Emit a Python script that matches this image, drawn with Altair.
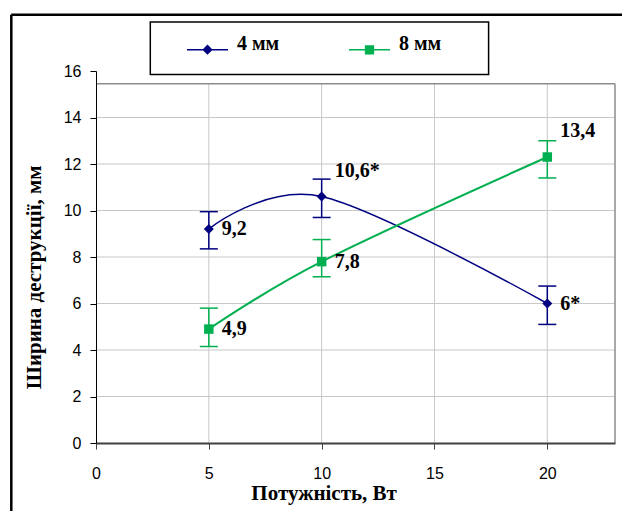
import altair as alt
import pandas as pd

# ---------------- data ----------------
power = [5, 10, 20]
series_names = ["4 мм", "8 мм"]

width_4mm = [9.2, 10.6, 6.0]
low_4mm = [8.35, 9.7, 5.1]
high_4mm = [9.95, 11.35, 6.75]
labels_4mm = ["9,2", "10,6*", "6*"]

width_8mm = [4.9, 7.8, 12.3]
low_8mm = [4.15, 7.15, 11.4]
high_8mm = [5.8, 8.75, 13.0]
labels_8mm = ["4,9", "7,8", "13,4"]

x_ticks = [0, 5, 10, 15, 20]
y_ticks = [0, 2, 4, 6, 8, 10, 12, 14, 16]
x_grid = [5, 10, 15, 20]
y_grid = [2, 4, 6, 8, 10, 12, 14]
x_max = 23
plot_top = 15.45
raised_labels = ["10,6*", "13,4"]

colors = ["#000080", "#00B050"]

# ---------------- layout ----------------
W, H = 519, 372
xs = alt.Scale(domain=[0, x_max], nice=False, zero=False)
ys = alt.Scale(domain=[0, 16], nice=False, zero=False)

serif = "Liberation Serif"
sans = "Liberation Sans"

xaxis = alt.Axis(values=x_ticks, title="Потужність, Вт", grid=False,
                 domainColor="#404040", domainWidth=2, tickColor="#404040",
                 tickWidth=1, tickSize=6, labelFont=sans, labelFontSize=16,
                 labelColor="black", labelPadding=16, labelFlush=False,
                 labelOverlap=False,
                 titleFont=serif, titleFontWeight="bold", titleFontSize=21,
                 titleColor="black", titleX=227.6, titleY=50,
                 titleBaseline="middle", titleAlign="center", zindex=1)
yaxis = alt.Axis(values=y_ticks, title="Ширина деструкції, мм", grid=False,
                 domainColor="black", domainWidth=1, tickColor="black",
                 tickWidth=1, tickSize=6, labelFont=sans, labelFontSize=16,
                 labelColor="black", labelPadding=9, labelOverlap=False,
                 titleFont=serif, titleFontWeight="bold", titleFontSize=21,
                 titleColor="black", titleX=-62, titleY=205.8, titleAngle=270,
                 titleBaseline="middle", titleAlign="center", zindex=1)


def X(field=None, datum=None):
    if datum is not None:
        return alt.X(datum=datum, scale=xs, axis=xaxis)
    return alt.X(field, scale=xs, axis=xaxis)


def Y(field=None, datum=None):
    if datum is not None:
        return alt.Y(datum=datum, scale=ys, axis=yaxis)
    return alt.Y(field, scale=ys, axis=yaxis)


def make_df(vals, lo, hi, labs, name):
    return pd.DataFrame({
        "power": power, "value": vals, "low": lo, "high": hi,
        "label": labs, "series": name,
        "raised": [l in raised_labels for l in labs],
    })


df4 = make_df(width_4mm, low_4mm, high_4mm, labels_4mm, series_names[0])
df8 = make_df(width_8mm, low_8mm, high_8mm, labels_8mm, series_names[1])


def series_layers(df, color, shape, size, line_w):
    base = alt.Chart(df)
    line = base.mark_line(interpolate="cardinal", color=color,
                          strokeWidth=line_w).encode(x=X("power:Q"), y=Y("value:Q"))
    err = base.mark_rule(color=color, strokeWidth=1.5).encode(
        x=X("power:Q"), y=Y("low:Q"), y2="high:Q")
    cap_lo = base.mark_rule(color=color, strokeWidth=1.5, xOffset=-9,
                            x2Offset=9).encode(
        x=X("power:Q"), x2="power:Q", y=Y("low:Q"))
    cap_hi = base.mark_rule(color=color, strokeWidth=1.5, xOffset=-9,
                            x2Offset=9).encode(
        x=X("power:Q"), x2="power:Q", y=Y("high:Q"))
    pts = base.mark_point(shape=shape, filled=True, size=size, color=color,
                          opacity=1).encode(x=X("power:Q"), y=Y("value:Q"))
    txt_kw = dict(align="left", baseline="middle", dx=13, font=serif,
                  fontWeight="bold", fontSize=20, color="black")
    txt = base.transform_filter("!datum.raised").mark_text(**txt_kw).encode(
        x=X("power:Q"), y=Y("value:Q"), text="label:N")
    txt_up = base.transform_filter("datum.raised").mark_text(
        dy=-26, **txt_kw).encode(x=X("power:Q"), y=Y("value:Q"), text="label:N")
    return [line, err, cap_lo, cap_hi, pts, txt, txt_up]


one = alt.Data(values=[{"k": 1}])

# grid lines and plot-area border
hgrid = alt.Chart(pd.DataFrame({"g": y_grid})).mark_rule(
    color="#c8c8c8", strokeWidth=1).encode(
    y=Y("g:Q"), x=X(datum=0), x2=alt.X2(datum=x_max))
vgrid = alt.Chart(pd.DataFrame({"g": x_grid})).mark_rule(
    color="#c8c8c8", strokeWidth=1).encode(
    x=X("g:Q"), y=Y(datum=0), y2=alt.Y2(datum=plot_top))
top_border = alt.Chart(one).mark_rule(color="#8c8c8c", strokeWidth=1.5).encode(
    y=Y(datum=plot_top), x=X(datum=0), x2=alt.X2(datum=x_max))
right_border = alt.Chart(one).mark_rule(color="#8c8c8c", strokeWidth=1.5).encode(
    x=X(datum=x_max), y=Y(datum=0), y2=alt.Y2(datum=plot_top))

# decorative frames (outer chart border, legend box)
frame_left = alt.Chart(one).mark_rule(color="black", strokeWidth=2.5).encode(
    x=alt.value(-84.7), y=alt.value(-56.2), y2=alt.value(440))
frame_top = alt.Chart(one).mark_rule(color="black", strokeWidth=2.5).encode(
    y=alt.value(-56.2), x=alt.value(-84.7), x2=alt.value(526))
legend_box = alt.Chart(one).mark_rect(fill="white", stroke="black",
                                      strokeWidth=1.5).encode(
    x=alt.value(54.3), x2=alt.value(392.6), y=alt.value(-49), y2=alt.value(3.6))

# native legend: line + marker symbols
symbol_paths = ["M-1,0H1M0,-0.2L0.2,0L0,0.2L-0.2,0Z",
                "M-1,0H1M-0.19,-0.19H0.19V0.19H-0.19Z"]
leg = alt.Legend(orient="none", legendX=90, legendY=-43, direction="horizontal",
                 columns=2, title=None, padding=0, labelFont=serif,
                 labelFontWeight="bold", labelFontSize=20, labelColor="black",
                 labelBaseline="alphabetic", symbolSize=1681,
                 symbolStrokeWidth=1.5, labelOffset=8, columnPadding=66)
legend_layer = alt.Chart(pd.DataFrame({"series": series_names})).transform_filter(
    "false").mark_point(filled=True, opacity=1).encode(
    color=alt.Color("series:N", scale=alt.Scale(domain=series_names, range=colors),
                    legend=leg),
    stroke=alt.Stroke("series:N", scale=alt.Scale(domain=series_names, range=colors),
                      legend=leg),
    shape=alt.Shape("series:N", scale=alt.Scale(domain=series_names, range=symbol_paths),
                    legend=leg),
)

layers = [hgrid, vgrid, top_border, right_border, frame_left, frame_top, legend_box]
layers += series_layers(df4, colors[0], "diamond", 100, 1.5)
layers += series_layers(df8, colors[1], "square", 90, 2)
layers += [legend_layer]

chart = alt.layer(*layers).properties(
    width=W, height=H,
    padding={"left": 10, "top": 13, "right": 0, "bottom": 0},
    background="white",
).configure_view(stroke=None)

chart.save("out.html", embed_options={"renderer": "svg", "actions": False})
